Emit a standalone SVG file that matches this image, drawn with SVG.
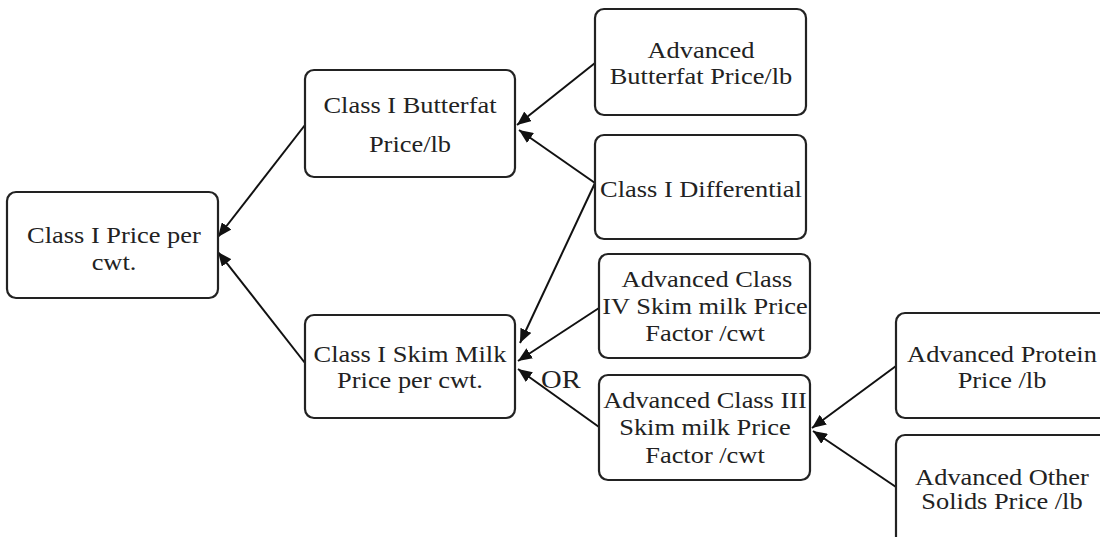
<svg xmlns="http://www.w3.org/2000/svg" width="1100" height="537" viewBox="0 0 1100 537">
<style>
.box{fill:#fff;stroke:#222;stroke-width:2.2}
.t{font-family:"Liberation Serif","Times New Roman",serif;font-size:24px;fill:#222;text-anchor:middle;transform-box:fill-box;transform-origin:center;transform:scaleX(1.1)}
.c{stroke:#111;stroke-width:2;fill:none;marker-end:url(#ah)}
</style>
<defs>
<marker id="ah" markerUnits="userSpaceOnUse" markerWidth="14" markerHeight="12" refX="14" refY="6" orient="auto">
<path d="M0,0 L14,6 L0,12 Z" fill="#111"/>
</marker>
</defs>
<rect width="1100" height="537" fill="#fff"/>
<g id="connectors">
<line class="c" x1="305" y1="125" x2="218" y2="237"/>
<line class="c" x1="305" y1="363" x2="218" y2="252"/>
<line class="c" x1="595" y1="63" x2="517" y2="125"/>
<line class="c" x1="595" y1="183" x2="519" y2="130"/>
<line class="c" x1="595" y1="183" x2="520" y2="343"/>
<line class="c" x1="599" y1="308" x2="518" y2="361"/>
<line class="c" x1="599" y1="427" x2="518" y2="369"/>
<line class="c" x1="896" y1="366" x2="812" y2="428"/>
<line class="c" x1="896" y1="487" x2="813" y2="431"/>
<text class="t" x="561" y="388" style="font-size:26px">OR</text>
</g>
<g id="n-class1price">
<rect class="box" x="7" y="192" width="211" height="106" rx="9"/>
<text class="t" x="114" y="243">Class I Price per</text>
<text class="t" x="114" y="270">cwt.</text>
</g>
<g id="n-butterfat">
<rect class="box" x="305" y="70" width="210" height="107" rx="9"/>
<text class="t" x="410" y="113">Class I Butterfat</text>
<text class="t" x="410" y="152">Price/lb</text>
</g>
<g id="n-skim">
<rect class="box" x="305" y="315" width="210" height="103" rx="9"/>
<text class="t" x="410" y="362">Class I Skim Milk</text>
<text class="t" x="410" y="388">Price per cwt.</text>
</g>
<g id="n-advbutterfat">
<rect class="box" x="595" y="9" width="211" height="106" rx="9"/>
<text class="t" x="701" y="58">Advanced</text>
<text class="t" x="701" y="84">Butterfat Price/lb</text>
</g>
<g id="n-differential">
<rect class="box" x="595" y="135" width="211" height="104" rx="9"/>
<text class="t" x="701" y="197">Class I Differential</text>
</g>
<g id="n-class4">
<rect class="box" x="599" y="254" width="211" height="104" rx="9"/>
<text class="t" x="707" y="287">Advanced Class</text>
<text class="t" x="705" y="314">IV Skim milk Price</text>
<text class="t" x="705" y="341">Factor /cwt</text>
</g>
<g id="n-class3">
<rect class="box" x="599" y="375" width="211" height="105" rx="9"/>
<text class="t" x="705" y="408">Advanced Class III</text>
<text class="t" x="705" y="435">Skim milk Price</text>
<text class="t" x="705" y="463">Factor /cwt</text>
</g>
<g id="n-protein">
<rect class="box" x="896" y="313" width="220" height="105" rx="9"/>
<text class="t" x="1002" y="362">Advanced Protein</text>
<text class="t" x="1002" y="388">Price /lb</text>
</g>
<g id="n-othersolids">
<rect class="box" x="896" y="435" width="220" height="115" rx="9"/>
<text class="t" x="1002" y="485">Advanced Other</text>
<text class="t" x="1002" y="509">Solids Price /lb</text>
</g>
</svg>
